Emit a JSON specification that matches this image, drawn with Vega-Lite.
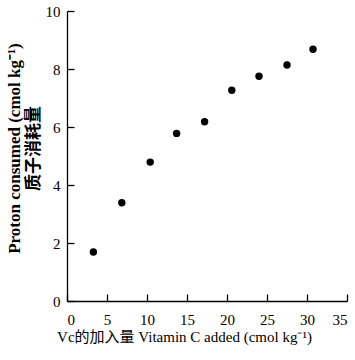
{
  "$schema": "https://vega.github.io/schema/vega-lite/v6.json",
  "autosize": "none",
  "width": 280,
  "height": 290,
  "padding": {"left": 67, "top": 11, "right": 8, "bottom": 59},
  "background": "white",
  "config": {
    "view": {"stroke": null},
    "axis": {
      "grid": false,
      "domainColor": "black",
      "tickColor": "black",
      "labelColor": "black",
      "titleColor": "black",
      "labelFont": "Liberation Serif",
      "titleFont": "Liberation Serif, Noto Sans CJK SC",
      "labelFontSize": 15,
      "titleFontSize": 15,
      "tickSize": -7,
      "domainWidth": 1.3,
      "tickWidth": 1.3
    }
  },
  "data": {
    "values": [
      {"vc": 3.3, "proton": 1.69},
      {"vc": 6.85, "proton": 3.39},
      {"vc": 10.4, "proton": 4.79},
      {"vc": 13.7, "proton": 5.78},
      {"vc": 17.2, "proton": 6.18},
      {"vc": 20.6, "proton": 7.27},
      {"vc": 24.0, "proton": 7.75},
      {"vc": 27.5, "proton": 8.14},
      {"vc": 30.75, "proton": 8.68}
    ]
  },
  "mark": {"type": "point", "filled": true, "color": "black", "opacity": 1, "size": 55},
  "encoding": {
    "x": {
      "field": "vc",
      "type": "quantitative",
      "scale": {"domain": [0, 35], "nice": false},
      "axis": {
        "values": [0, 5, 10, 15, 20, 25, 30, 35],
        "title": "Vc的加入量 Vitamin C added (cmol kg⁻¹)",
        "titleFontWeight": "normal",
        "titleX": 117,
        "titleY": 28,
        "titleAlign": "center",
        "titleBaseline": "top",
        "labelPadding": 18
      }
    },
    "y": {
      "field": "proton",
      "type": "quantitative",
      "scale": {"domain": [0, 10], "nice": false},
      "axis": {
        "values": [0, 2, 4, 6, 8, 10],
        "title": ["Proton consumed (cmol kg⁻¹)", "质子消耗量"],
        "titleFontWeight": "bold",
        "titleFontSize": 17,
        "titleY": 137,
        "labelPadding": 14,
        "titlePadding": 3
      }
    }
  }
}
